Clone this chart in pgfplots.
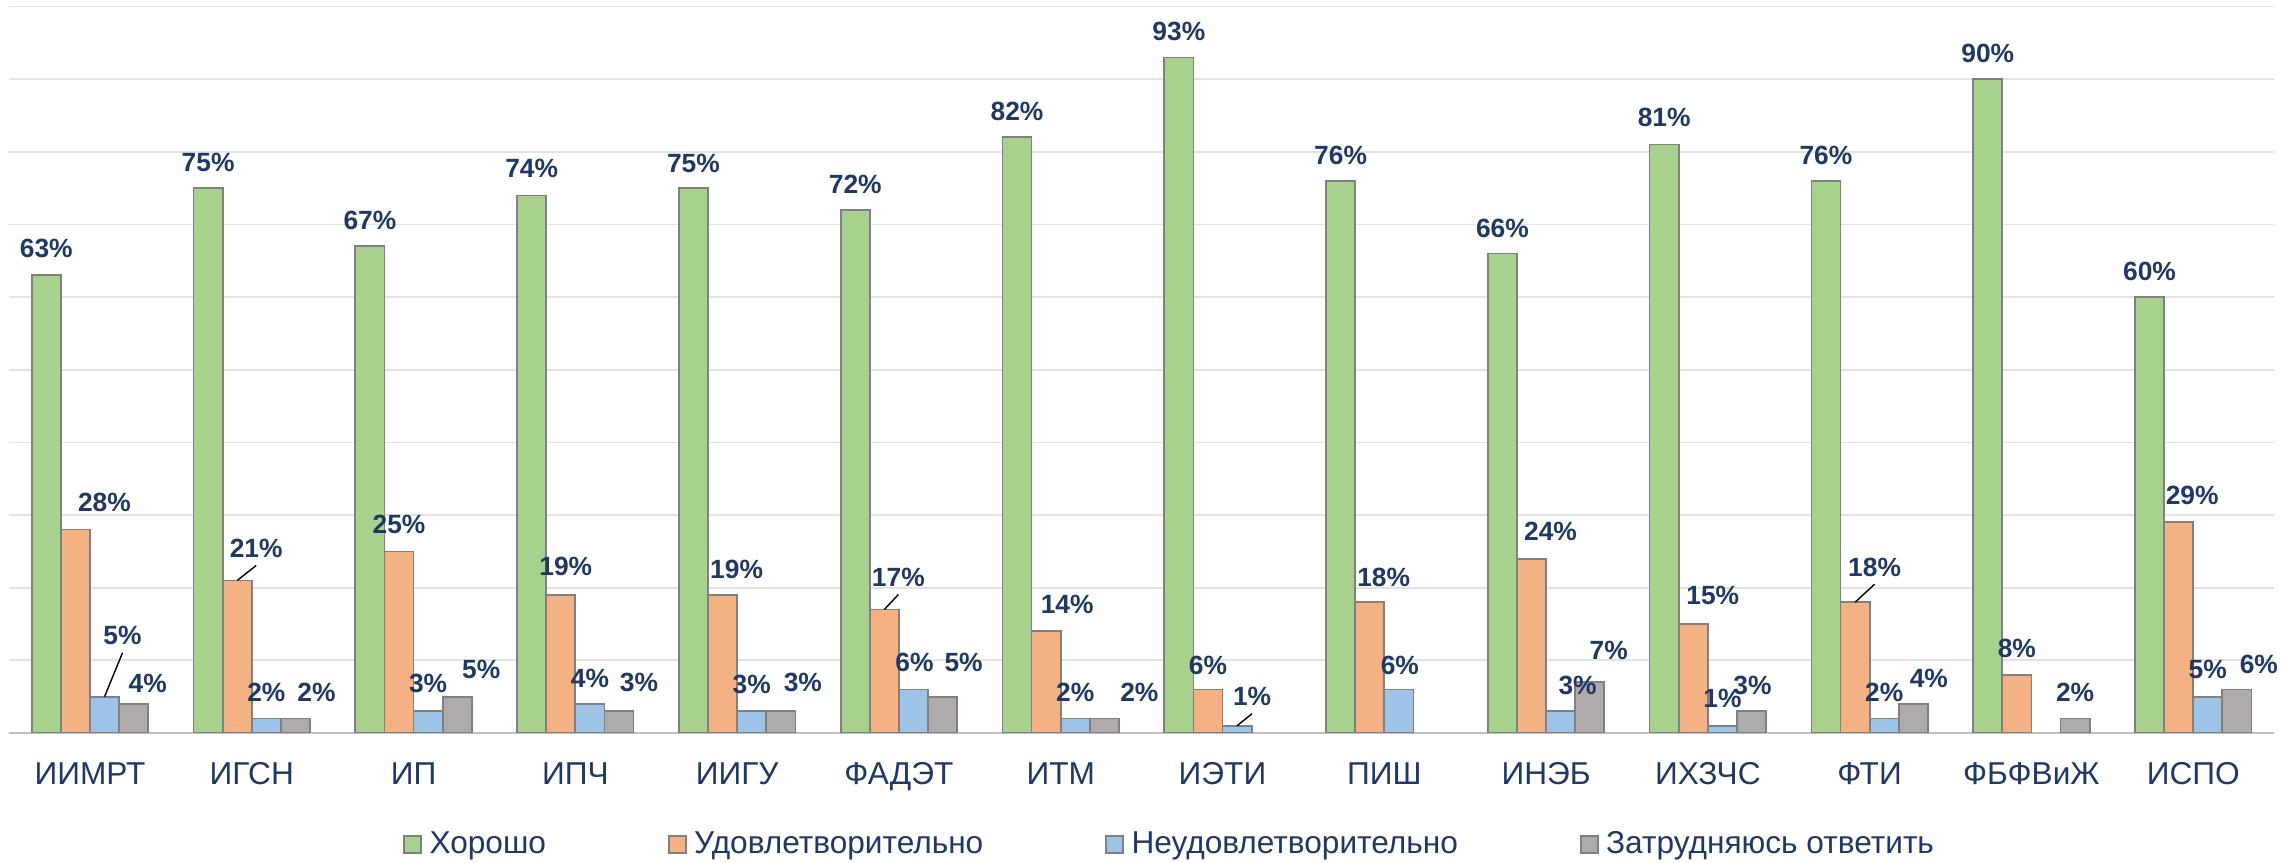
\documentclass[border=0pt]{standalone}
\usepackage{fontspec}
\setmainfont{Liberation Sans}
\usepackage{pgfplots}
\usepackage{pgfplotstable}
\pgfplotsset{compat=1.18}
\definecolor{cgood}{HTML}{A9D18E}
\definecolor{csat}{HTML}{F4B183}
\definecolor{cbad}{HTML}{9DC3E6}
\definecolor{cna}{HTML}{AFABAB}
\definecolor{cedge}{HTML}{808080}
\definecolor{navy}{HTML}{1F3864}
\definecolor{gridc}{HTML}{E3E3E3}
\definecolor{axisc}{HTML}{BFBFBF}

% x = institute, y = share in %, dx/dy = label offset (1 = 0.01cm), lead = leader line
\pgfplotstableread{
x y dx dy lead
0 63 0 27 0
1 75 0 26 0
2 67 0 26 0
3 74 0 27 0
4 75 0 25 0
5 72 0 26 0
6 82 0 26 0
7 93 0 26 0
8 76 0 26 0
9 66 0 25.5 0
10 81 0 27 0
11 76 0 26 0
12 90 0 25.6 0
13 60 0 26 0
}\tgood
\pgfplotstableread{
x y dx dy lead
0 28 29 27 0
1 21 19 32 1
2 25 0 27 0
3 19 5 29 0
4 19 14 26 0
5 17 14 32 1
6 14 21 27 0
7 6 0 24 0
8 18 14 25 0
9 24 19 27.5 0
10 15 19.5 29 0
11 18 19.5 35 1
12 8 0 26.5 0
13 29 13.5 26.5 0
}\tsat
\pgfplotstableread{
x y dx dy lead
0 5 18 61 1
1 2 0 26 0
2 3 0 28 0
3 4 0 26 0
4 3 0 27 0
5 6 1 27 0
6 2 0 26 0
7 1 15 29 1
8 6 1 24 0
9 3 17 26 0
10 1 0 27 0
11 2 0 26 0
13 5 0 27 0
}\tbad
\pgfplotstableread{
x y dx dy lead
0 4 14 21 0
1 2 21 26 0
2 5 24 27 0
3 3 20 29 0
4 3 22 29 0
5 5 21 34 0
6 2 35 26 0
9 7 19 31.5 0
10 3 1 26 0
11 4 15.5 25.5 0
12 2 0 26 0
13 6 22 25 0
}\tna

\pgfplotsset{
  sqleg/.style={legend image code/.code={%
    \draw[##1, line width=0.6pt] (0cm,-0.085cm) rectangle (0.17cm,0.085cm);}},
  lbl/.style={
    point meta=explicit,
    nodes near coords={\pgfmathprintnumber{\pgfplotspointmeta}\%},
    visualization depends on={\thisrow{dx} \as \ldx},
    visualization depends on={\thisrow{dy} \as \ldy},
    visualization depends on={\thisrow{lead} \as \llead},
    every node near coord/.append style={anchor=center, inner sep=0pt,
      xshift=\ldx*0.01cm, yshift=\ldy*0.01cm,
      font=\fontsize{7.5}{9}\selectfont\bfseries, text=navy,
      append after command={([yshift=-0.17cm]\tikzlastnode.center)
        edge[draw=black, line width=0.4pt, draw opacity=\llead, line cap=butt]
        ([xshift=-\llead*\ldx*0.01cm,
          yshift=-0.17cm-\llead*(\ldy*0.01cm-0.17cm)]\tikzlastnode.center)}},
  },
}

\begin{document}
\begin{tikzpicture}
\useasboundingbox (-0.091,-1.30) rectangle (22.729,7.33);
\begin{axis}[
  at={(0,0)}, anchor=south west,
  scale only axis, width=22.65cm, height=7.264cm,
  ybar=0pt, bar width=0.18,
  xmin=-0.5, xmax=13.5, ymin=0, ymax=100,
  xtick={0,...,13},
  xticklabels={ИИМРТ,ИГСН,ИП,ИПЧ,ИИГУ,ФАДЭТ,ИТМ,ИЭТИ,ПИШ,ИНЭБ,ИХЗЧС,ФТИ,ФБФВиЖ,ИСПО},
  ytick={0,10,...,100}, yticklabels={},
  ymajorgrids, grid style={draw=gridc, line width=0.5pt},
  axis x line*=bottom, axis y line*=left,
  x axis line style={draw=axisc, line width=0.8pt, -},
  y axis line style={draw=none},
  major tick length=0pt, tick style={draw=none},
  xticklabel style={anchor=base, yshift=-0.52cm,
    font=\fontsize{9}{11}\selectfont, text=navy},
  /pgf/number format/assume math mode=true,
  legend columns=4,
  legend cell align=left,
  legend style={at={(0.5135,-0.154)}, anchor=center, draw=none, fill=none,
    font=\fontsize{9}{11}\selectfont, text=navy,
    /tikz/every even column/.append style={column sep=1.15cm}},
]
\addplot[fill=cgood, draw=cedge, line width=0.5pt, sqleg, lbl] table[x=x, y=y, meta=y] {\tgood};
\addplot[fill=csat, draw=cedge, line width=0.5pt, sqleg, lbl] table[x=x, y=y, meta=y] {\tsat};
\addplot[fill=cbad, draw=cedge, line width=0.5pt, sqleg, lbl] table[x=x, y=y, meta=y] {\tbad};
\addplot[fill=cna, draw=cedge, line width=0.5pt, sqleg, lbl] table[x=x, y=y, meta=y] {\tna};
\legend{Хорошо, Удовлетворительно, Неудовлетворительно, Затрудняюсь ответить}
\end{axis}
\end{tikzpicture}
\end{document}
